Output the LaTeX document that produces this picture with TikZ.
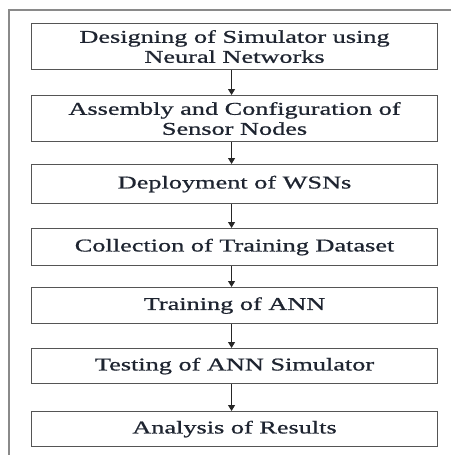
\documentclass[tikz,border=0pt]{standalone}
\usepackage{fontspec}
\setmainfont{Liberation Serif}[FakeStretch=1.46,FakeBold=0.8]
\usepackage{tikz}
\usetikzlibrary{arrows.meta}

\definecolor{boxline}{HTML}{555555}
\definecolor{frameline}{HTML}{8A8A8A}
\definecolor{steptext}{HTML}{1E2430}

\tikzset{
  stagebox/.style={draw=boxline, line width=1.1pt, minimum width=406pt,
    anchor=north west, align=center, inner sep=0pt, text=steptext,
    font=\fontsize{18}{20}\selectfont},
  flowarrow/.style={draw=black!85, line width=1pt, -{Triangle[length=6pt,width=7pt]}}
}

\begin{document}
\begin{tikzpicture}[x=1pt,y=-1pt]
\useasboundingbox (0,0) rectangle (455,455);

% Outer frame (open on the right and bottom)
\draw[frameline, line width=1.4pt] (451,10) -- (9,10) -- (9,455);

% Stages (top to bottom)
\node[stagebox, minimum height=46pt] (design) at (31,23) {Designing of Simulator using\\Neural Networks};
\node[stagebox, minimum height=46pt] (assembly) at (31,95) {Assembly and Configuration of\\Sensor Nodes};
\node[stagebox, minimum height=39pt] (deploy) at (31,164) {Deployment of WSNs};
\node[stagebox, minimum height=37pt] (collect) at (31,228) {Collection of Training Dataset};
\node[stagebox, minimum height=36pt] (train) at (31,287) {Training of ANN};
\node[stagebox, minimum height=35pt] (test) at (31,348) {Testing of ANN Simulator};
\node[stagebox, minimum height=35pt] (analysis) at (31,411) {Analysis of Results};

% Arrows between stages
\foreach \a/\b in {design/assembly, assembly/deploy, deploy/collect,
                   collect/train, train/test, test/analysis}
  \draw[flowarrow] ([xshift=-3pt]\a.south) -- ([xshift=-3pt]\b.north);

\end{tikzpicture}
\end{document}
